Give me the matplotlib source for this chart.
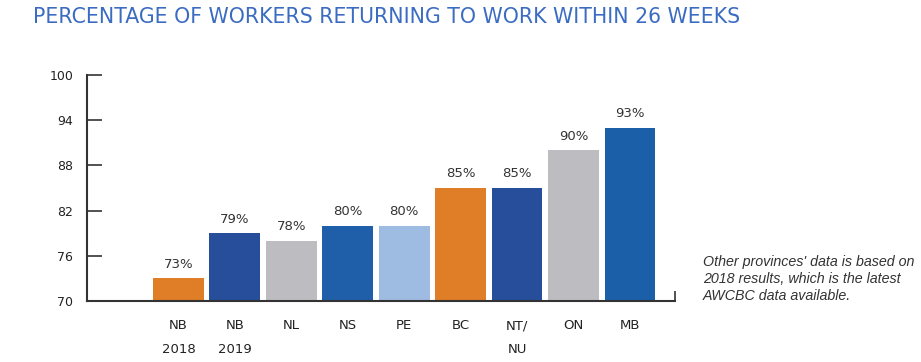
import matplotlib.pyplot as plt

labels = ['NB\n2018', 'NB\n2019', 'NL', 'NS', 'PE', 'BC', 'NT/\nNU', 'ON', 'MB']
values = [73, 79, 78, 80, 80, 85, 85, 90, 93]
colors = ['#E07D27', '#264E9B', '#BDBCC1', '#1F5EA8', '#9EBBE2',
          '#E07D27', '#264E9B', '#BDBCC1', '#1A5FA8']
yticks = [70, 76, 82, 88, 94, 100]

plt.rcParams['font.family'] = ['DejaVu Sans']

fig = plt.figure(figsize=(9.21, 3.62), dpi=100)
ax = fig.add_axes([0.0945, 0.1685, 0.6385, 0.6245])

x = list(range(len(values)))
bars = ax.bar(x, values, width=0.9, color=colors, bottom=0)
for xi, v in zip(x, values):
    ax.text(xi, v + 1.0, f'{v}%', ha='center', va='bottom', fontsize=9.5, color='#333333')

ax.set_ylim(70, 100)
ax.set_xlim(-1.62, 8.8)
ax.set_yticks(yticks)
ax.set_xticks(x)
ax.set_xticklabels(labels, fontsize=9.5, color='#222222', linespacing=2.1, va='top')
ax.set_xticks([8.8], minor=True)

for s in ['top', 'right']:
    ax.spines[s].set_visible(False)
for s in ['left', 'bottom']:
    ax.spines[s].set_color('#333333')
    ax.spines[s].set_linewidth(1.5)

ax.tick_params(axis='y', direction='in', length=11, width=1.2, color='#333333',
               labelsize=9, labelcolor='#222222', pad=10)
ax.tick_params(axis='x', which='major', length=0, pad=13)
ax.tick_params(axis='x', which='minor', direction='in', length=7, width=1.2, color='#333333')

fig.text(0.036, 0.953, 'PERCENTAGE OF WORKERS RETURNING TO WORK WITHIN 26 WEEKS',
         fontsize=14.8, color='#3B6CC2', ha='left', va='center')

fig.text(0.763, 0.229, "Other provinces' data is based on\n2018 results, which is the latest\nAWCBC data available.",
         fontsize=10.3, style='italic', color='#333333', ha='left', va='center',
         family=['Liberation Sans', 'DejaVu Sans'], linespacing=1.3)

fig.savefig('out.png', dpi=100)
